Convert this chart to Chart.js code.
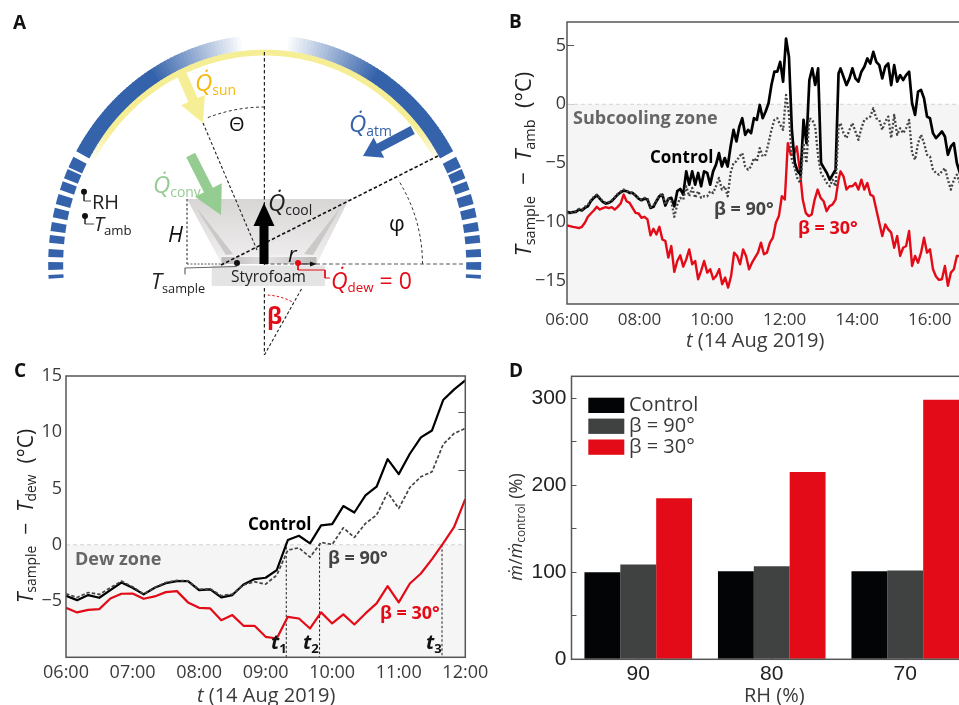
<!DOCTYPE html>
<html><head><meta charset="utf-8">
<script src="https://cdn.jsdelivr.net/npm/chart.js@4"></script>
<style>
html,body{margin:0;padding:0;background:#fff;width:959px;height:705px;overflow:hidden}
#stage{position:relative;width:959px;height:705px;overflow:hidden;font-family:"Open Sans",sans-serif}
canvas{position:absolute}
.t{position:absolute;white-space:nowrap;line-height:1;transform:translateY(-50%)}
.r{position:absolute;white-space:nowrap;line-height:1;transform:translate(-50%,-50%) rotate(-90deg)}
.t sub,.r sub{font-style:normal;font-size:.66em;vertical-align:-.28em;line-height:0}
.t sub.s{font-size:.58em}
i{font-family:"Open Sans",sans-serif}
</style></head><body><div id="stage"></div>
<script>
// ---------- Panel B: values in degrees C ----------
const bControlMorning=[-9.16,-9.24,-9.18,-9.16,-8.96,-9.04,-8.82,-8.68,-8.25,-7.97,-7.74,-8.03,-8.31,-8.45,-8.39,-8.25,-7.97,-7.69,-7.49,-7.35,-7.4,-7.55,-7.55,-7.77,-8.03,-8.17,-8.03,-8.11,-8.82,-8.73,-8.25,-7.83,-7.69,-8.62,-8.05,-7.97,-8.68,-7.4,-7.21,-7.69,-5.71,-6.84,-5.71,-6.84,-5.85,-6.98,-5.71];
const bControlMidday=[-5.85,-6.84,-5.71,-5.14,-4.16,-5.3,-4.58,-5.3,-3.59,-2.18,-3.17,-1.9,-1.19,-2.6,-2.18,-2.46,-1.19,-1.33,-0.06,-1.19,-0.62,0.08,1.64,2.77,2.77,3.61,1.92,5.59,4.04,-2.18,-5,-5.71,-5.99,-1.33,-3.31,2.06,3.05,1.64,3.05,-5,-5.43,-5.85,-6.42,-5.99,-5.57,2.62];
const bControlAfternoon=[3.05,2.34,1.63,2.2,3.05,2.2,1.92,2.77,3.19,3.9,3.47,4.46,3.61,3.33,2.2,3.19,3.47,1.63,3.33,1.92,2.48,2.06,2.48,2.77,0.08,-0.91,1.07,1.21,0.5,-1.05,-1.19,-2.46,-2.88,-2.6,-2.32,-2.74,-4.3,-3.59,-3.31,-5,-5.85,-6];
const bBeta90Morning=[-9.24,-9.3,-9.18,-9.1,-8.9,-8.96,-8.73,-8.56,-8.17,-7.88,-7.69,-7.97,-8.25,-8.39,-8.34,-8.17,-7.91,-7.63,-7.43,-7.26,-7.35,-7.49,-7.55,-7.74,-7.97,-8.11,-7.97,-8.03,-8.73,-8.62,-8.17,-7.77,-7.6,-8.53,-8.05,-8.25,-9.58,-8.53,-7.97,-8.11,-6.98,-7.83,-7.12,-7.97,-7.4,-7.97,-7.83];
const bBeta90Midday=[-7.83,-7.4,-7.55,-6.98,-6.27,-7.26,-6.98,-7.83,-5.85,-5,-4.86,-4.44,-4.16,-5.3,-5.57,-5.3,-4.58,-4.86,-3.73,-4.44,-4.3,-3.31,-2.18,-1.33,-1.19,-1.75,-2.18,0.79,-0.77,-4.72,-5.43,-6.42,-6.7,-3.31,-5,-1.19,-1.33,-1.9,-4.44,-5.85,-6.27,-6.7,-6.98,-6.42,-6.98,-1.9];
const bBeta90Afternoon=[-1.61,-2.46,-2.88,-2.18,-1.61,-2.32,-3.03,-2.04,-1.33,-1.19,-1.05,-0.34,-1.19,-1.33,-2.18,-1.47,-1.05,-2.88,-0.91,-2.6,-2.04,-2.46,-2.04,-1.33,-4.16,-4.72,-3.31,-2.6,-3.31,-4.3,-4.44,-5.57,-5.85,-5.99,-5.71,-5.43,-6.42,-7.26,-6.42,-5.99,-6.7,-6.5];
const bBeta30Morning=[-10.31,-10.37,-10.43,-10.48,-10.54,-10.43,-10.09,-9.58,-9.3,-9.04,-8.73,-8.96,-8.84,-8.76,-8.84,-8.76,-8.96,-8.73,-8.45,-7.69,-8.25,-8.39,-8.82,-9.24,-9.3,-9.66,-9.58,-9.8,-11.16,-10.6,-11.08,-10.43,-11.5,-11.64,-13.05,-12.07,-14.27,-13.34,-12.86,-13.82,-13.2,-12.35,-13.62,-13.34,-14.89,-14.18,-13.34];
const bBeta30Midday=[-14.33,-14.04,-14.89,-14.61,-14.04,-15.31,-14.75,-15.6,-14.61,-12.63,-12.91,-13.62,-12.35,-12.91,-14.04,-13.48,-13.05,-12.63,-11.78,-12.77,-12.63,-11.78,-11.36,-10.09,-9.52,-7.83,-8.11,-3.31,-4.3,-4.3,-3.59,-5.57,-8.11,-9.24,-9.52,-9.38,-8.11,-7.26,-7.97,-8.25,-9.1,-8.67,-8.53,-8.11,-6.42];
const bBeta30Afternoon=[-5.71,-6.13,-7.26,-6.98,-6.98,-6.7,-7.26,-6.42,-7.26,-6.7,-7.69,-7.83,-8.96,-10.09,-11.22,-10.23,-10.65,-10.93,-12.21,-11.22,-12.91,-12.21,-12.07,-10.79,-13.76,-12.91,-13.48,-12.63,-11.36,-12.63,-12.35,-14.04,-14.66,-14.95,-14.89,-13.76,-15.45,-14.33,-14.04,-12.91,-12.91,-12.8];
const bSpans=[[6,9.78],[9.867,13.486],[13.54,16.912]]; // hour of day covered by each reading run
const bHourTicks=[6,7,8,9,10,11,12,13,14,15,16,17];
// ---------- Panel C: values in degrees C, one reading every 10 minutes ----------
const cHours=[6,6.167,6.333,6.5,6.667,6.833,7,7.167,7.333,7.5,7.667,7.833,8,8.167,8.333,8.5,8.667,8.833,9,9.167,9.333,9.5,9.667,9.833,10,10.167,10.333,10.5,10.667,10.833,11,11.167,11.333,11.5,11.667,11.833,12];
const cControl=[-4.53,-4.92,-4.47,-4.71,-4.03,-3.35,-3.82,-4.41,-3.82,-3.41,-3.23,-3.23,-4.03,-3.97,-4.68,-4.47,-3.53,-3.05,-2.93,-2.25,0.42,0.8,0.12,1.72,1.84,3.44,2.87,4.39,5.16,7.62,6.28,8.09,9.54,10.16,12.86,13.81,14.61];
const cBeta90=[-4.35,-4.68,-4.24,-4.41,-3.82,-3.23,-3.73,-4.38,-3.79,-3.35,-3.17,-3.2,-3.97,-3.91,-4.53,-4.38,-3.58,-3.29,-3.5,-2.7,-0.47,-0.27,-1.1,0.21,0.03,1.51,0.65,1.9,2.64,4.65,3.23,5.1,6.05,6.49,8.92,9.9,10.34];
const cBeta30=[-5.6,-6.01,-5.78,-5.72,-4.77,-4.35,-4.33,-4.8,-4.59,-4.21,-4.12,-5.12,-5.6,-5.66,-6.7,-6.25,-7.2,-7.2,-8.18,-8.33,-6.4,-6.55,-7.44,-6.01,-6.99,-6.19,-7.08,-6.1,-5.21,-3.67,-5.12,-3.44,-2.55,-1.27,0.12,1.6,4.06];
const cMarkers=[[9.31,0.2],[9.81,0.1],[11.65,0]]; // t1,t2,t3: hour, top of the drop line
// ---------- Panel D ----------
const dCategories=['90','80','70'];
const dControl=[100,101,101];
const dBeta90=[109,107,102];
const dBeta30=[185,215,298];
const seriesNames=['Control','β = 90°','β = 30°'];

const BLACK='#000',GREY='#444',RED='#E30B17',BLUE='#3563AB',YEL='#F6EE95',GRN='#95CC92',AMB='#F5B90E';
const stage=document.getElementById('stage');
const FONT='"Open Sans",sans-serif', ARIAL='"Liberation Sans",sans-serif';
Chart.defaults.font.family=FONT; Chart.defaults.color='#3a3a3a';

function cv(l,t,w,h){const c=document.createElement('canvas');c.width=w;c.height=h;c.style.left=l+'px';c.style.top=t+'px';c.style.width=w+'px';c.style.height=h+'px';stage.appendChild(c);return c;}
function txt(x,y,html,css){const s=document.createElement('span');s.className='t';s.innerHTML=html;s.style.cssText='left:'+x+'px;top:'+y+'px;'+css;stage.appendChild(s);}
function rot(x,y,html,css){const s=document.createElement('span');s.className='r';s.innerHTML=html;s.style.cssText='left:'+x+'px;top:'+y+'px;'+css;stage.appendChild(s);}
const minus=v=>String(v).replace('-','−');
const pts=(xs,ys)=>ys.map((y,i)=>({x:xs[i],y}));
const stamps=(span,n)=>Array.from({length:n},(_,i)=>span[0]+(span[1]-span[0])*i/(n-1));
const run=(a,b,c)=>[...pts(stamps(bSpans[0],a.length),a),...pts(stamps(bSpans[1],b.length),b),...pts(stamps(bSpans[2],c.length),c)];
const hh=v=>String(v).padStart(2,'0')+':00';
const noPad=s=>{s.paddingLeft=0;s.paddingRight=0;s.paddingTop=0;s.paddingBottom=0;};
const frame={id:'frame',afterDatasetsDraw(ch){const a=ch.chartArea,c=ch.ctx;c.save();c.strokeStyle='#555';c.lineWidth=1.5;c.strokeRect(a.left,a.top,a.width,a.height);c.restore();}};
const tickGrid={drawOnChartArea:false,tickLength:-7,tickColor:'#555',tickWidth:1};
const zoneDs=(xs)=>({data:xs.map(x=>({x,y:0})),borderColor:'#d4d4d4',borderWidth:1,borderDash:[4,3],backgroundColor:'#f5f5f5',fill:'start',pointRadius:0,order:20,showLine:true});
const ln=(data,color,w,dash,order)=>({data,borderColor:color,borderWidth:w,borderDash:dash||[],pointRadius:0,showLine:true,tension:0,fill:false,order,borderJoinStyle:'round'});
const base={responsive:false,animation:false,events:[],plugins:{legend:{display:false},tooltip:{enabled:false}}};

// ---------- Panel B chart ----------
new Chart(cv(500,0,466,360),{type:'scatter',data:{datasets:[
  ln(run(bBeta30Morning,bBeta30Midday,bBeta30Afternoon),RED,2.4,null,3),
  ln(run(bControlMorning,bControlMidday,bControlAfternoon),BLACK,2.7,null,2),
  ln(run(bBeta90Morning,bBeta90Midday,bBeta90Afternoon),GREY,2.3,[2,2],1),
  zoneDs([6,17])]},
 options:{...base,layout:{autoPadding:false,padding:{top:22,right:0,left:0,bottom:0}},scales:{
  x:{type:'linear',min:6,max:17,afterBuildTicks:s=>{s.ticks=bHourTicks.map(value=>({value}));},
     grid:tickGrid,border:{display:false},
     ticks:{autoSkip:false,maxRotation:0,padding:13,color:'#3a3a3a',font:{size:17},callback:v=>(v%2===0&&v<17)?hh(v):''},afterFit:s=>{s.height=56;noPad(s);}},
  y:{min:-17,max:7,grid:tickGrid,border:{display:false},
     ticks:{stepSize:5,includeBounds:false,padding:8,color:'#3a3a3a',font:{size:18},callback:minus},afterFit:s=>{s.width=67;noPad(s);}}}},
 plugins:[frame]});

// ---------- Panel C chart ----------
const markerDs=cMarkers.map(m=>ln([{x:m[0],y:m[1]},{x:m[0],y:-10}],'#222',1,[2.5,2],5));
new Chart(cv(0,355,495,350),{type:'scatter',data:{datasets:[
  ln(pts(cHours,cBeta30),RED,2.2,null,3),
  ln(pts(cHours,cControl),BLACK,2.2,null,2),
  ln(pts(cHours,cBeta90),GREY,1.7,[3.5,2],1),
  ...markerDs,
  zoneDs([6,12])]},
 options:{...base,layout:{autoPadding:false,padding:{top:21,right:29.7,left:0,bottom:0}},scales:{
  x:{type:'linear',min:6,max:12,grid:tickGrid,border:{display:false},
     ticks:{stepSize:1,autoSkip:false,maxRotation:0,padding:12,color:'#3a3a3a',font:{size:18},callback:v=>hh(v)},afterFit:s=>{s.height=47.7;noPad(s);}},
  y:{min:-10,max:15,grid:{drawOnChartArea:false,drawTicks:false},border:{display:false},
     ticks:{stepSize:5,padding:4,color:'#3a3a3a',font:{size:18},callback:v=>v===-10?'':minus(v)},afterFit:s=>{s.width=66;noPad(s);}},
  yR:{position:'right',min:-0.18,max:4.615,grid:tickGrid,border:{display:false},
     ticks:{stepSize:1,includeBounds:false,display:false},afterFit:s=>{s.width=0;noPad(s);}}}},
 plugins:[frame]});

// ---------- Panel D chart ----------
const barDs=(label,data,color)=>({label,data,backgroundColor:color,barPercentage:1,categoryPercentage:0.806});
const dLegend={id:'dLegend',afterDatasetsDraw(ch){const c=ch.ctx;c.save();
  ch.data.datasets.forEach((d,i)=>{const y=42.7+i*20.9;
    c.fillStyle=d.backgroundColor;c.fillRect(88.3,y,36,15.3);
    c.fillStyle='#3a3a3a';c.font='20px '+FONT;c.textBaseline='middle';c.textAlign='left';c.fillText(d.label,129,y+7.5);});c.restore();}};
new Chart(cv(500,355,472,350),{type:'bar',data:{labels:dCategories,datasets:[
  barDs(seriesNames[0],dControl,'#030406'),barDs(seriesNames[1],dBeta90,'#404241'),barDs(seriesNames[2],dBeta30,RED)]},
 options:{...base,layout:{autoPadding:false,padding:{top:21.3,right:0,left:0,bottom:0}},scales:{
  x:{grid:{drawOnChartArea:false,tickLength:-5,tickColor:'#555',offset:false},border:{display:false},
     ticks:{maxRotation:0,padding:7,color:'#222',font:{family:ARIAL,size:21}},afterFit:s=>{s.height=45.7;noPad(s);}},
  y:{min:0,max:325,grid:{drawOnChartArea:false,tickLength:-5,tickColor:'#555'},border:{display:false},
     ticks:{stepSize:50,includeBounds:false,padding:10,color:'#222',font:{family:ARIAL,size:21},callback:v=>v%100===0?v:''},afterFit:s=>{s.width=71.5;noPad(s);}}}},
 plugins:[frame,dLegend]});

// ---------- Panel A schematic (drawn through a hidden scale pair) ----------
const DOME={cx:264.7,cy:264,a:216.5,b:229,thick:15,yel:5.5};
const domeSolidDeg=[29.5,150.5];
const domeFadeDeg=[58,84,96,122];
const domeTicksDeg=[[-3.7,-2.75],[-1.5,0.5],[1.75,3.75],[5.3,7.3],[8.3,10.6],[11.8,14.2],[15.2,17.8],[18.9,21.2],[22,24.5],[25,27.9]];
const arrows=[[180.7,72,203,123,10,26,25,YEL],[412.7,130,363,156,9,23,18,BLUE],[190.7,155,221,215,10,30,28,GRN],[264,264,264,203,9,21,23,BLACK]];
const dashLines=[
 {p:[[264.4,52],[264.4,265]],c:'#222',w:1.2,d:[3.5,2.5]},
 {p:[[264.4,288],[264.4,355]],c:'#222',w:1.2,d:[3.5,2.5]},
 {p:[[203,123],[257,250]],c:'#222',w:1.1,d:[3,2.2]},
 {p:[[221,265],[438,156]],c:'#111',w:1.6,d:[3.5,2.2]},
 {p:[[264,264],[465,264]],c:'#555',w:1.2,d:[4,2.5]},
 {p:[[187,264],[226,264]],c:'#555',w:1.2,d:[2,1.5]},
 {p:[[187,199],[187,264]],c:'#333',w:1.1,d:[2.5,2]},
 {p:[[264.4,355],[302,288]],c:'#222',w:1.1,d:[3,2.2]},
 {p:[[237,266.5],[185,268],[185,274]],c:'#666',w:1.2,d:[]},
 {p:[[84,192],[84,201],[91,201]],c:'#444',w:1,d:[]},
 {p:[[85,216],[85,224],[94,224]],c:'#444',w:1,d:[]},
 {p:[[298,263],[298,270],[325,270],[325,278],[330,278]],c:RED,w:1,d:[]},
 {p:[[298,264],[313,264]],c:'#111',w:1,d:[]}];
const arcLines=[
 {c:[264.5,264],r:158,from:0,to:33,col:'#333',d:[3,2.5]},
 {c:[264.5,264],r:157,from:90,to:113,col:'#333',d:[3,2.5]},
 {c:[264.5,355],r:60,from:63,to:90,col:RED,d:[2.5,2]}];
const dots=[{p:[84,191.7],c:'#111'},{p:[85,216],c:'#111'},{p:[237,263],c:'#111'},{p:[298,263],c:RED}];
const arcPts=a=>{const o=[];for(let t=a.from;t<=a.to;t+=2)o.push({x:a.c[0]+a.r*Math.cos(t*Math.PI/180),y:a.c[1]-a.r*Math.sin(t*Math.PI/180)});return o;};
const mix=(k)=>{const f=(a)=>Math.round(a+(255-a)*k);return `rgb(${f(0x35)},${f(0x63)},${f(0xAB)})`;};
const shapes={id:'shapes',
 beforeDatasetsDraw(ch){const c=ch.ctx,X=v=>ch.scales.x.getPixelForValue(v),Y=v=>ch.scales.y.getPixelForValue(v);
  const poly=(p,f)=>{c.beginPath();p.forEach((q,i)=>i?c.lineTo(X(q[0]),Y(q[1])):c.moveTo(X(q[0]),Y(q[1])));c.closePath();c.fillStyle=f;c.fill();};
  const E=(t,off)=>{const r=t*Math.PI/180;return [DOME.cx+(DOME.a-off)*Math.cos(r),DOME.cy-(DOME.b-off)*Math.sin(r)];};
  const band=(t0,t1,o0,o1,f)=>{const p=[];for(let t=t0;t<=t1+0.001;t+=(t1-t0)/4)p.push(E(t,o0));for(let t=t1;t>=t0-0.001;t-=(t1-t0)/4)p.push(E(t,o1));poly(p,f);};
  c.save();
  for(let t=domeSolidDeg[0];t<domeSolidDeg[1];t+=1){const e=Math.min(t+1.3,domeSolidDeg[1]);
    const m=t+0.5;let k=0;const F=domeFadeDeg;
    if(m>F[0]&&m<F[1])k=(m-F[0])/(F[1]-F[0]);else if(m>=F[1]&&m<=F[2])k=1;else if(m>F[2]&&m<F[3])k=1-(m-F[2])/(F[3]-F[2]);
    band(t,e,0,DOME.thick,mix(k));
    const w=Math.min(1,Math.min(m-domeSolidDeg[0],domeSolidDeg[1]-m)/10);
    c.globalAlpha=w;band(t,e,DOME.thick-0.3,DOME.thick+DOME.yel,YEL);c.globalAlpha=1;}
  domeTicksDeg.forEach(s=>{band(s[0],s[1],0,DOME.thick,BLUE);band(180-s[1],180-s[0],0,DOME.thick,BLUE);});
  // styrofoam block and cup
  poly([[211.7,265.5],[325,265.5],[325,286],[211.7,286]],'#e4e4e4');
  const g=c.createLinearGradient(0,Y(199),0,Y(264));g.addColorStop(0,'#d8d5d5');g.addColorStop(1,'#f1efef');
  poly([[187,199],[349,199],[316.7,264],[221.7,264]],g);
  poly([[197,208],[233,254],[226,255],[201,216]],'#cbc8c8');
  poly([[340,208],[304,254],[313,255],[336,216]],'#cbc8c8');
  const g2=c.createLinearGradient(X(222),0,X(316),0);g2.addColorStop(0,'#bdbaba');g2.addColorStop(.5,'#e2e0e0');g2.addColorStop(1,'#bdbaba');
  poly([[221.5,257],[316.5,257],[316.5,264],[221.5,264]],g2);
  poly([[220,255.4],[318,255.4],[318,257],[220,257]],'#f4f3f3');
  c.restore();},
 afterDatasetsDraw(ch){const c=ch.ctx,X=v=>ch.scales.x.getPixelForValue(v),Y=v=>ch.scales.y.getPixelForValue(v);
  c.save();
  arrows.forEach(a=>{const [x0,y0,x1,y1,w,hw,hl,col]=a,L=Math.hypot(x1-x0,y1-y0),ux=(x1-x0)/L,uy=(y1-y0)/L,nx=-uy,ny=ux,bx=x1-ux*hl,by=y1-uy*hl;
    const p=[[x0+nx*w/2,y0+ny*w/2],[bx+nx*w/2,by+ny*w/2],[bx+nx*hw/2,by+ny*hw/2],[x1,y1],[bx-nx*hw/2,by-ny*hw/2],[bx-nx*w/2,by-ny*w/2],[x0-nx*w/2,y0-ny*w/2]];
    c.beginPath();p.forEach((q,i)=>i?c.lineTo(X(q[0]),Y(q[1])):c.moveTo(X(q[0]),Y(q[1])));c.closePath();c.fillStyle=col;c.fill();});
  c.beginPath();c.moveTo(X(317),Y(264));c.lineTo(X(310),Y(261.5));c.lineTo(X(310),Y(266.5));c.closePath();c.fillStyle='#111';c.fill();
  c.restore();}};
new Chart(cv(0,0,500,360),{type:'scatter',data:{datasets:[
  ...dashLines.map(l=>ln(l.p.map(q=>({x:q[0],y:q[1]})),l.c,l.w,l.d,2)),
  ...arcLines.map(a=>ln(arcPts(a),a.col,1,a.d,2)),
  ...dots.map(d=>({data:[{x:d.p[0],y:d.p[1]}],backgroundColor:d.c,pointRadius:3,pointBorderWidth:0,order:1}))]},
 options:{...base,layout:{autoPadding:false,padding:0},scales:{
  x:{type:'linear',min:0,max:500,display:false},y:{min:0,max:360,reverse:true,display:false}}},
 plugins:[shapes]});

// ---------- Text ----------
const Q='<i>Q̇</i>';
const bold='font-weight:700;';
txt(13,22,'A',bold+'font-size:19px;color:#111');
txt(509,21,'B',bold+'font-size:19px;color:#111');
txt(14,370,'C',bold+'font-size:19px;color:#111');
txt(509,370,'D',bold+'font-size:19px;color:#111');
// A
txt(195,82,Q+'<sub class="s">sun</sub>','font-size:24px;color:'+AMB);
txt(349,123,Q+'<sub class="s">atm</sub>','font-size:24px;color:'+BLUE);
txt(153,184,Q+'<sub class="s">conv</sub>','font-size:24px;color:'+GRN);
txt(268,202,Q+'<sub class="s">cool</sub>','font-size:24px;color:#222');
txt(331,280,Q+'<sub class="s">dew</sub> = 0','font-size:23px;color:'+RED);
txt(229,124,'Θ','font-size:20px;color:#111');
txt(389,222,'φ','font-size:22px;color:#111');
txt(168,233,'<i>H</i>','font-size:22px;color:#111');
txt(288,253,'<i>r</i>','font-size:22px;color:#111');
txt(92,202,'RH','font-size:20px;color:#222');
txt(94,224,'<i>T</i><sub>amb</sub>','font-size:20px;color:#222');
txt(151,280,'<i>T</i><sub class="s">sample</sub>','font-size:22px;color:#222');
txt(231,277,'Styrofoam','font-size:15.5px;color:#222');
txt(267,315,'β',bold+'font-size:23px;color:'+RED);
// B
txt(573,117,'Subcooling zone',bold+'font-size:18px;color:#666');
txt(650,156,'Control',bold+'font-size:17px;color:#000');
txt(714,208,'β = 90°',bold+'font-size:18px;color:#444');
txt(798,227,'β = 30°',bold+'font-size:18px;color:'+RED);
rot(522,164,'<i>T</i><sub>sample</sub> &nbsp;−&nbsp; <i>T</i><sub>amb</sub> &nbsp;(°C)','font-size:22px;color:#222');
txt(686,340,'<i>t</i> (14 Aug 2019)','font-size:20px;color:#3a3a3a');
// C
txt(75,558,'Dew zone',bold+'font-size:18px;color:#666');
txt(248,523,'Control',bold+'font-size:17px;color:#000');
txt(328,557,'β = 90°',bold+'font-size:18px;color:#444');
txt(380,612,'β = 30°',bold+'font-size:18px;color:'+RED);
txt(271,642,'<i>t</i><sub>1</sub>',bold+'font-size:20px;color:#111');
txt(303,642,'<i>t</i><sub>2</sub>',bold+'font-size:20px;color:#111');
txt(426,642,'<i>t</i><sub>3</sub>',bold+'font-size:20px;color:#111');
rot(25,516,'<i>T</i><sub>sample</sub> &nbsp;−&nbsp; <i>T</i><sub>dew</sub> &nbsp;(°C)','font-size:21px;color:#222');
txt(197,695,'<i>t</i> (14 Aug 2019)','font-size:20px;color:#3a3a3a');
// D
rot(515,527,'<i>ṁ</i>/<i>ṁ</i><sub>control</sub> (%)','font-size:18px;color:#333');
txt(744,695,'RH (%)','font-size:20px;color:#3a3a3a');
</script></body></html>
